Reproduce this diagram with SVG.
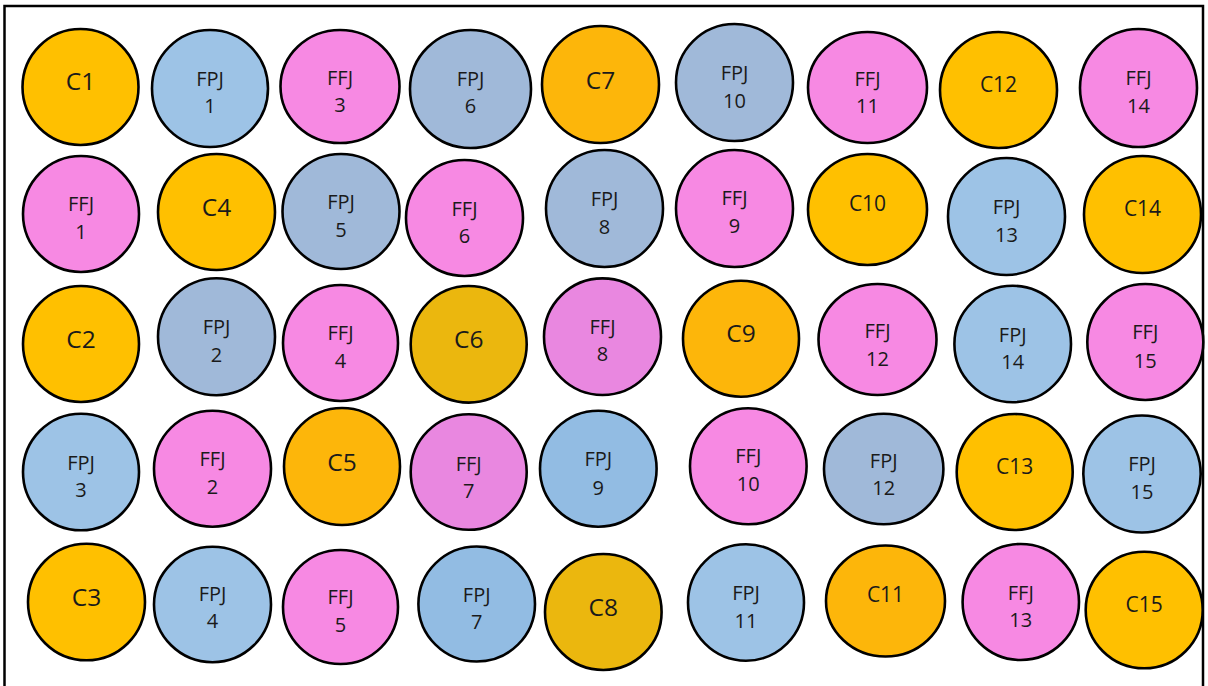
<svg xmlns="http://www.w3.org/2000/svg" width="1208" height="686" viewBox="0 0 1208 686">
<style>
.n ellipse{stroke:#000;stroke-width:2.6}
.o{fill:#FFC000}
.o2{fill:#FDB60A}
.g{fill:#EBB70E}
.b{fill:#9DC3E6}
.b2{fill:#92BCE3}
.gb{fill:#A0B9D9}
.p{fill:#F789E3}
.pp{fill:#E987E0}
text{font-family:"Open Sans","Liberation Sans",sans-serif;fill:#1a1a1a;text-anchor:middle}
.t2{font-size:20px}
.tb{font-size:24.5px}
.ts{font-size:21px}
</style>
<rect x="4.5" y="6" width="1198.5" height="700" fill="#fff" stroke="#000" stroke-width="2.5"/>
<g id="connectors"/>
<g id="nodes">
<!-- Row 1 -->
<g id="C1" class="n"><ellipse class="o" cx="80.5" cy="87" rx="58" ry="58"/><text class="tb" x="80.5" y="90">C1</text></g>
<g id="FPJ1" class="n"><ellipse class="b" cx="210" cy="88.5" rx="58" ry="58.5"/><text class="t2" x="210" y="86">FPJ</text><text class="t2" x="210" y="113">1</text></g>
<g id="FFJ3" class="n"><ellipse class="p" cx="340" cy="86.5" rx="59.5" ry="56.5"/><text class="t2" x="340" y="85">FFJ</text><text class="t2" x="340" y="112">3</text></g>
<g id="FPJ6" class="n"><ellipse class="gb" cx="470.5" cy="89" rx="60.5" ry="59"/><text class="t2" x="470.5" y="86">FPJ</text><text class="t2" x="470.5" y="113">6</text></g>
<g id="C7" class="n"><ellipse class="o2" cx="600.5" cy="84.5" rx="58.5" ry="58.5"/><text class="tb" x="600.5" y="88.5">C7</text></g>
<g id="FPJ10" class="n"><ellipse class="gb" cx="734.5" cy="82.5" rx="58.5" ry="58.5"/><text class="t2" x="734.5" y="80">FPJ</text><text class="t2" x="734.5" y="108">10</text></g>
<g id="FFJ11" class="n"><ellipse class="p" cx="867.5" cy="87.5" rx="59.5" ry="55.5"/><text class="t2" x="867.5" y="86">FFJ</text><text class="t2" x="867.5" y="113">11</text></g>
<g id="C12" class="n"><ellipse class="o" cx="998.5" cy="90" rx="58.5" ry="58"/><text class="ts" x="998.5" y="91.5">C12</text></g>
<g id="FFJ14" class="n"><ellipse class="p" cx="1138.5" cy="88" rx="58.5" ry="59"/><text class="t2" x="1138.5" y="85">FFJ</text><text class="t2" x="1138.5" y="113">14</text></g>
<!-- Row 2 -->
<g id="FFJ1" class="n"><ellipse class="p" cx="81" cy="214" rx="58" ry="58"/><text class="t2" x="81" y="211">FFJ</text><text class="t2" x="81" y="239">1</text></g>
<g id="C4" class="n"><ellipse class="o" cx="216.5" cy="212" rx="58.5" ry="58"/><text class="tb" x="216.5" y="216">C4</text></g>
<g id="FPJ5" class="n"><ellipse class="gb" cx="341" cy="211.5" rx="58.5" ry="57.5"/><text class="t2" x="341" y="209">FPJ</text><text class="t2" x="341" y="237">5</text></g>
<g id="FFJ6" class="n"><ellipse class="p" cx="464.5" cy="218" rx="58.5" ry="58"/><text class="t2" x="464.5" y="216">FFJ</text><text class="t2" x="464.5" y="243">6</text></g>
<g id="FPJ8" class="n"><ellipse class="gb" cx="604.5" cy="208.5" rx="58.5" ry="58.5"/><text class="t2" x="604.5" y="206">FPJ</text><text class="t2" x="604.5" y="234">8</text></g>
<g id="FFJ9" class="n"><ellipse class="p" cx="734.5" cy="208.5" rx="58.5" ry="58.5"/><text class="t2" x="734.5" y="205">FFJ</text><text class="t2" x="734.5" y="233">9</text></g>
<g id="C10" class="n"><ellipse class="o" cx="867.5" cy="209.5" rx="59.5" ry="55.5"/><text class="ts" x="867.5" y="211">C10</text></g>
<g id="FPJ13" class="n"><ellipse class="b" cx="1006.5" cy="216.5" rx="58.5" ry="58.5"/><text class="t2" x="1006.5" y="214">FPJ</text><text class="t2" x="1006.5" y="242">13</text></g>
<g id="C14" class="n"><ellipse class="o" cx="1142.5" cy="214.5" rx="58.5" ry="58.5"/><text class="ts" x="1142.5" y="215.5">C14</text></g>
<!-- Row 3 -->
<g id="C2" class="n"><ellipse class="o" cx="81" cy="344" rx="58" ry="58"/><text class="tb" x="81" y="348">C2</text></g>
<g id="FPJ2" class="n"><ellipse class="gb" cx="216.5" cy="336.7" rx="58.5" ry="58.5"/><text class="t2" x="216.5" y="334">FPJ</text><text class="t2" x="216.5" y="362">2</text></g>
<g id="FFJ4" class="n"><ellipse class="p" cx="340.5" cy="343" rx="57.5" ry="58"/><text class="t2" x="340.5" y="340">FFJ</text><text class="t2" x="340.5" y="368">4</text></g>
<g id="C6" class="n"><ellipse class="g" cx="468.7" cy="344.3" rx="58" ry="58.3"/><text class="tb" x="468.7" y="348.3">C6</text></g>
<g id="FFJ8" class="n"><ellipse class="pp" cx="602.5" cy="336.7" rx="58.5" ry="58.3"/><text class="t2" x="602.5" y="334">FFJ</text><text class="t2" x="602.5" y="361">8</text></g>
<g id="C9" class="n"><ellipse class="o2" cx="741" cy="338.7" rx="58" ry="58"/><text class="tb" x="741" y="342">C9</text></g>
<g id="FFJ12" class="n"><ellipse class="p" cx="877.5" cy="339.5" rx="59" ry="55.5"/><text class="t2" x="877.5" y="338">FFJ</text><text class="t2" x="877.5" y="366">12</text></g>
<g id="FPJ14" class="n"><ellipse class="b" cx="1012.7" cy="344" rx="58.3" ry="58.2"/><text class="t2" x="1012.7" y="342">FPJ</text><text class="t2" x="1012.7" y="369">14</text></g>
<g id="FFJ15" class="n"><ellipse class="p" cx="1145.3" cy="342" rx="58" ry="58"/><text class="t2" x="1145.3" y="339">FFJ</text><text class="t2" x="1145.3" y="368">15</text></g>
<!-- Row 4 -->
<g id="FPJ3" class="n"><ellipse class="b" cx="81" cy="472" rx="58" ry="58.3"/><text class="t2" x="81" y="470">FPJ</text><text class="t2" x="81" y="497">3</text></g>
<g id="FFJ2" class="n"><ellipse class="p" cx="212.5" cy="468.7" rx="58.5" ry="58"/><text class="t2" x="212.5" y="466">FFJ</text><text class="t2" x="212.5" y="494">2</text></g>
<g id="C5" class="n"><ellipse class="o2" cx="342" cy="466.5" rx="58" ry="58.5"/><text class="tb" x="342" y="470.5">C5</text></g>
<g id="FFJ7" class="n"><ellipse class="pp" cx="468.7" cy="472" rx="58" ry="57.8"/><text class="t2" x="468.7" y="471">FFJ</text><text class="t2" x="468.7" y="498">7</text></g>
<g id="FPJ9" class="n"><ellipse class="b2" cx="598.3" cy="468.7" rx="58.3" ry="58"/><text class="t2" x="598.3" y="466">FPJ</text><text class="t2" x="598.3" y="495">9</text></g>
<g id="FFJ10" class="n"><ellipse class="p" cx="748.3" cy="466.3" rx="58.3" ry="58"/><text class="t2" x="748.3" y="463">FFJ</text><text class="t2" x="748.3" y="491">10</text></g>
<g id="FPJ12" class="n"><ellipse class="gb" cx="883.7" cy="469" rx="59.7" ry="55.2"/><text class="t2" x="883.7" y="468">FPJ</text><text class="t2" x="883.7" y="495">12</text></g>
<g id="C13" class="n"><ellipse class="o" cx="1014.7" cy="472" rx="58" ry="58"/><text class="ts" x="1014.7" y="473.5">C13</text></g>
<g id="FPJ15" class="n"><ellipse class="b" cx="1142" cy="474" rx="58.7" ry="58.5"/><text class="t2" x="1142" y="471">FPJ</text><text class="t2" x="1142" y="499">15</text></g>
<!-- Row 5 -->
<g id="C3" class="n"><ellipse class="o" cx="86.5" cy="602" rx="58.5" ry="58.3"/><text class="tb" x="86.5" y="605.5">C3</text></g>
<g id="FPJ4" class="n"><ellipse class="b" cx="212.5" cy="604.5" rx="58.5" ry="57.7"/><text class="t2" x="212.5" y="601">FPJ</text><text class="t2" x="212.5" y="628">4</text></g>
<g id="FFJ5" class="n"><ellipse class="p" cx="340.5" cy="607" rx="57.5" ry="57"/><text class="t2" x="340.5" y="603.5">FFJ</text><text class="t2" x="340.5" y="631.5">5</text></g>
<g id="FPJ7" class="n"><ellipse class="b2" cx="476.7" cy="604" rx="58.3" ry="57.5"/><text class="t2" x="476.7" y="601.5">FPJ</text><text class="t2" x="476.7" y="629">7</text></g>
<g id="C8" class="n"><ellipse class="g" cx="603.3" cy="612" rx="58.3" ry="58"/><text class="tb" x="603.3" y="615.5">C8</text></g>
<g id="FPJ11" class="n"><ellipse class="b" cx="746" cy="602.5" rx="58" ry="58.2"/><text class="t2" x="746" y="600">FPJ</text><text class="t2" x="746" y="627.5">11</text></g>
<g id="C11" class="n"><ellipse class="o2" cx="885.5" cy="601" rx="59.5" ry="55.5"/><text class="ts" x="885.5" y="602">C11</text></g>
<g id="FFJ13" class="n"><ellipse class="p" cx="1020.8" cy="602" rx="58.2" ry="58"/><text class="t2" x="1020.8" y="600">FFJ</text><text class="t2" x="1020.8" y="627">13</text></g>
<g id="C15" class="n"><ellipse class="o" cx="1144.2" cy="610" rx="58.5" ry="58.3"/><text class="ts" x="1144.2" y="611.5">C15</text></g>
</g>
</svg>
